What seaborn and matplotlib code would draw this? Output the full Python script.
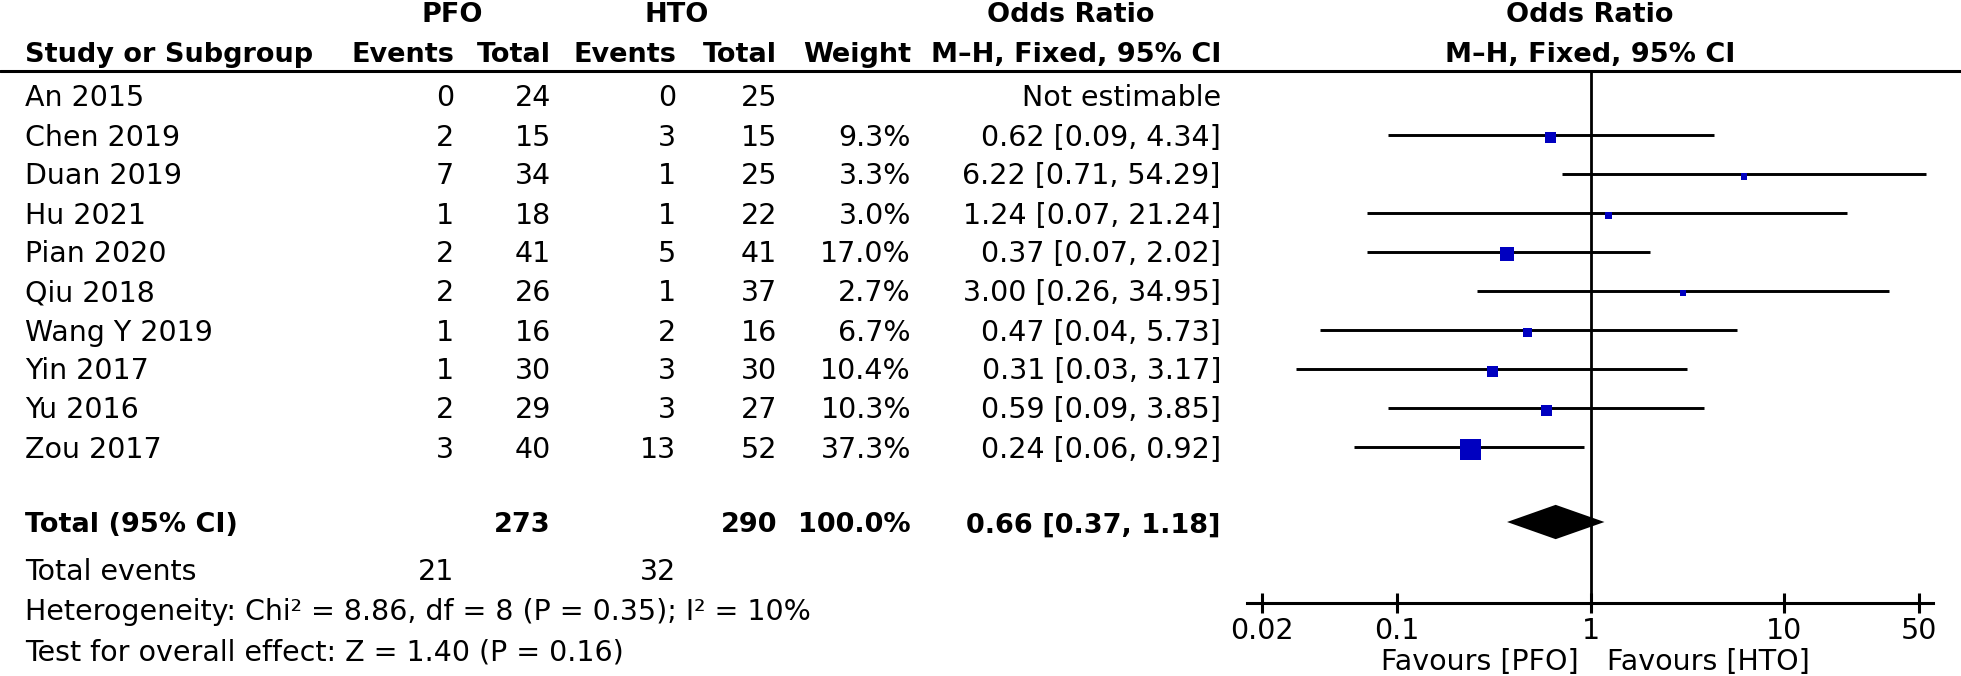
import numpy as np
import matplotlib
matplotlib.use("Agg")
import matplotlib.pyplot as plt
import seaborn as sns
from matplotlib.lines import Line2D
from matplotlib.ticker import NullLocator

# datos del forest plot
studies = ["An 2015", "Chen 2019", "Duan 2019", "Hu 2021", "Pian 2020",
           "Qiu 2018", "Wang Y 2019", "Yin 2017", "Yu 2016", "Zou 2017"]
pfo_events = [0, 2, 7, 1, 2, 2, 1, 1, 2, 3]
pfo_total = [24, 15, 34, 18, 41, 26, 16, 30, 29, 40]
hto_events = [0, 3, 1, 1, 5, 1, 2, 3, 3, 13]
hto_total = [25, 15, 25, 22, 41, 37, 16, 30, 27, 52]
weights = [np.nan, 9.3, 3.3, 3.0, 17.0, 2.7, 6.7, 10.4, 10.3, 37.3]
odds = [np.nan, 0.62, 6.22, 1.24, 0.37, 3.00, 0.47, 0.31, 0.59, 0.24]
ci_low = [np.nan, 0.09, 0.71, 0.07, 0.07, 0.26, 0.04, 0.03, 0.09, 0.06]
ci_high = [np.nan, 4.34, 54.29, 21.24, 2.02, 34.95, 5.73, 3.17, 3.85, 0.92]

total_pfo, total_hto = 273, 290
events_pfo, events_hto = 21, 32
total_or, total_low, total_high = 0.66, 0.37, 1.18
heterogeneity = "Heterogeneity: Chi² = 8.86, df = 8 (P = 0.35); I² = 10%"
overall = "Test for overall effect: Z = 1.40 (P = 0.16)"

ticks = [0.02, 0.1, 1, 10, 50]
tick_labels = ["0.02", "0.1", "1", "10", "50"]

W, H = 1961, 676
sns.set_theme(style="white")
plt.rcParams['font.family'] = ['DejaVu Sans']
FS = 20.5
FS_B = 19.5

fig = plt.figure(figsize=(W / 100, H / 100), dpi=100)
fig.patch.set_facecolor("white")


def put(x, y, s, ha="left", bold=False):
    fig.text(x / W, 1 - y / H, s, ha=ha, va="baseline",
             fontsize=FS_B if bold else FS,
             fontweight="bold" if bold else "normal", color="black")


def base(i):
    # linea base de la fila i (en pixeles desde arriba)
    return 96 + 39 * i + 10.5


# columnas (pixeles)
C_STUDY, C_E1, C_T1, C_E2, C_T2, C_W, C_OR = 25, 454, 551, 676, 777, 911, 1221

# encabezados
put(452, 22, "PFO", ha="center", bold=True)
put(677, 22, "HTO", ha="center", bold=True)
put(1071, 22, "Odds Ratio", ha="center", bold=True)
put(1590, 22, "Odds Ratio", ha="center", bold=True)
put(C_STUDY, 62, "Study or Subgroup", bold=True)
put(C_E1, 62, "Events", ha="right", bold=True)
put(C_T1, 62, "Total", ha="right", bold=True)
put(C_E2, 62, "Events", ha="right", bold=True)
put(C_T2, 62, "Total", ha="right", bold=True)
put(C_W, 62, "Weight", ha="right", bold=True)
put(C_OR, 62, "M–H, Fixed, 95% CI", ha="right", bold=True)
put(1590, 62, "M–H, Fixed, 95% CI", ha="center", bold=True)
fig.add_artist(Line2D([0, 1], [1 - 71 / H] * 2, transform=fig.transFigure,
                      color="black", lw=2.2))

# filas de estudios
for i, name in enumerate(studies):
    y = base(i)
    put(C_STUDY, y, name)
    put(C_E1, y, str(pfo_events[i]), ha="right")
    put(C_T1, y, str(pfo_total[i]), ha="right")
    put(C_E2, y, str(hto_events[i]), ha="right")
    put(C_T2, y, str(hto_total[i]), ha="right")
    if np.isnan(odds[i]):
        put(C_OR, y, "Not estimable", ha="right")
    else:
        put(C_W, y, f"{weights[i]:.1f}%", ha="right")
        put(C_OR, y, f"{odds[i]:.2f} [{ci_low[i]:.2f}, {ci_high[i]:.2f}]", ha="right")

# totales
total_row = (522 - 96) / 39
yt = 522 + 10.5
put(C_STUDY, yt, "Total (95% CI)", bold=True)
put(C_T1, yt, str(total_pfo), ha="right", bold=True)
put(C_T2, yt, str(total_hto), ha="right", bold=True)
put(C_W, yt, "100.0%", ha="right", bold=True)
put(C_OR, yt, f"{total_or:.2f} [{total_low:.2f}, {total_high:.2f}]", ha="right", bold=True)
put(C_STUDY, 569 + 10.5, "Total events")
put(C_E1, 569 + 10.5, str(events_pfo), ha="right")
put(C_E2, 569 + 10.5, str(events_hto), ha="right")
put(C_STUDY, 610 + 10.5, heterogeneity)
put(C_STUDY, 650 + 10.5, overall)

# forest plot
ax = fig.add_axes([1247 / W, 1 - 603 / H, (1933 - 1247) / W, (603 - 71) / H])
ax.set_facecolor("none")
ax.set_xscale("log")
ax.set_xlim(0.0167, 59.1)
ax.set_ylim((603 - 96) / 39, (71 - 96) / 39)

rows = np.arange(len(studies))
odds_a = np.array(odds)
ok = ~np.isnan(odds_a)
w_a = np.array(weights)
side_px = 20 * np.sqrt(w_a[ok] / 37.3) + 0.8
sizes = (side_px * 72 / 100) ** 2

ax.axvline(1, color="black", lw=2.0, zorder=1)
ax.hlines(rows[ok], np.array(ci_low)[ok], np.array(ci_high)[ok],
          color="black", lw=2.1, zorder=2)
sns.scatterplot(x=odds_a[ok], y=rows[ok] + 0.06, s=sizes, marker="s",
                color="#0000C0", edgecolor="#0000C0", linewidth=0,
                ax=ax, legend=False, zorder=3)
ax.fill([total_low, total_or, total_high, total_or],
        [total_row, total_row - 0.44, total_row, total_row + 0.44],
        color="black", zorder=3, lw=0)

sns.despine(ax=ax, left=True)
ax.spines["bottom"].set_linewidth(2.2)
ax.spines["bottom"].set_color("black")
ax.set_yticks([])
ax.set_xticks(ticks)
ax.set_xticklabels(tick_labels)
ax.xaxis.set_minor_locator(NullLocator())
ax.tick_params(axis="x", which="major", direction="inout", length=13.7,
               width=2.2, pad=3, labelsize=FS, colors="black", bottom=True)

ax.annotate("Favours [PFO]", xy=(1, 0), xycoords=("data", "axes fraction"),
            xytext=(-12, -67.5), textcoords="offset pixels",
            ha="right", va="baseline", fontsize=FS, color="black")
ax.annotate("Favours [HTO]", xy=(1, 0), xycoords=("data", "axes fraction"),
            xytext=(16, -67.5), textcoords="offset pixels",
            ha="left", va="baseline", fontsize=FS, color="black")

fig.savefig("out.png", dpi=100)
